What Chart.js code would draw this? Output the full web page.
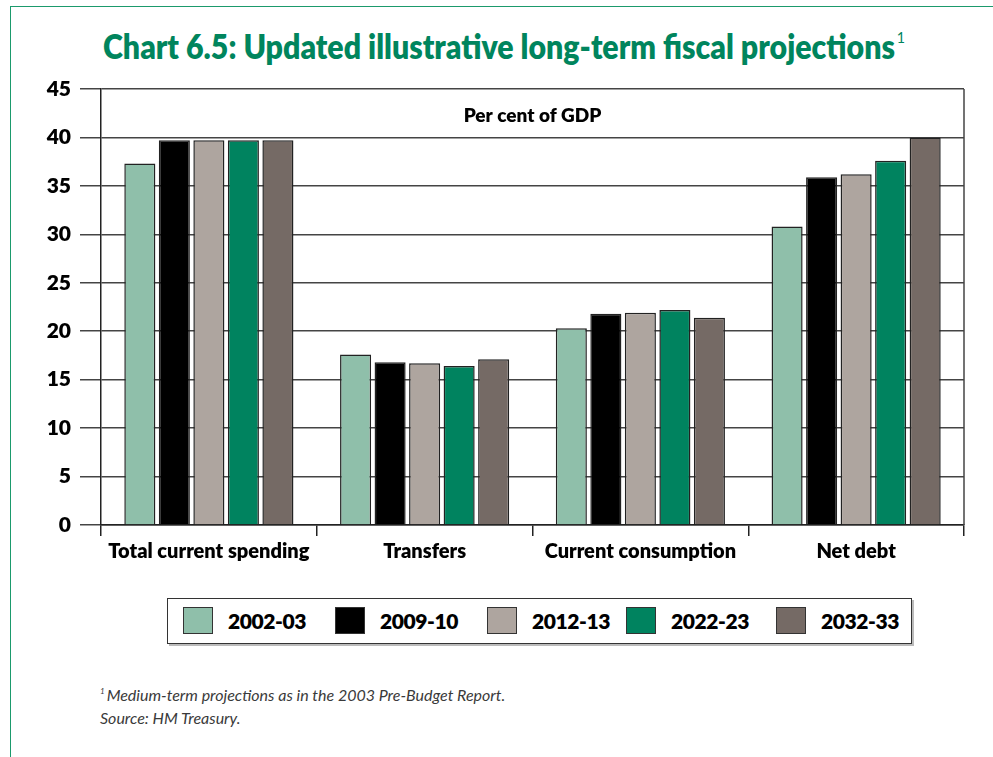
<!DOCTYPE html>
<html>
<head>
<meta charset="utf-8">
<script src="https://cdn.jsdelivr.net/npm/chart.js@4.4.1/dist/chart.umd.min.js"></script>
<style>
  html, body { margin: 0; padding: 0; background: #fff; }
  body { width: 993px; height: 757px; position: relative; overflow: hidden; font-family: Lato, "DejaVu Sans", sans-serif; }
  .frame-top { position: absolute; left: 10px; top: 6px; right: 0; height: 0; border-top: 1.5px solid #1b9a6c; }
  .frame-left { position: absolute; left: 10px; top: 6px; bottom: 0; width: 0; border-left: 1.5px solid #1b9a6c; }
  #title { position: absolute; left: 103px; top: 25px; font-weight: 800; font-size: 34px; color: #00855d; white-space: nowrap; transform-origin: 0 0; }
  #title sup { font-size: 16px; font-weight: 400; vertical-align: 16px; margin-left: 2px; }
  #wrap { position: absolute; left: 0; top: 0; width: 993px; height: 580px; }
  #legend { position: absolute; left: 167px; top: 598px; width: 745px; height: 46px; border: 1.5px solid #333;
            box-shadow: 2px 2px 0 #bbb; box-sizing: border-box; }
  .item { position: absolute; top: 0; height: 43px; display: flex; align-items: center; gap: 15px;
          font-weight: 800; font-size: 21px; letter-spacing: -0.4px; color: #000; white-space: nowrap; }
  .sw { width: 28px; height: 25px; border: 1.5px solid #333; }
  #note { position: absolute; left: 100px; top: 680px; font-style: italic; font-weight: 400; font-size: 16px; color: #3a3a3a; line-height: 23px; }
  #note sup { font-size: 8px; vertical-align: 7px; margin-right: 2px; }
</style>
</head>
<body>
<div class="frame-top"></div>
<div class="frame-left"></div>
<div id="title">Chart 6.5: Updated illustrative long-term fiscal projections<sup>1</sup></div>
<div id="wrap"><canvas id="c"></canvas></div>
<div id="legend"></div>
<div id="note"><sup>1</sup>Medium-term projections as in the 2003 Pre-Budget Report.<br>Source: HM Treasury.</div>
<script>
const categories = ['Total current spending', 'Transfers', 'Current consumption', 'Net debt'];
const years = ['2002-03', '2009-10', '2012-13', '2022-23', '2032-33'];
const colours = ['#8fbfaa', '#000000', '#aea59f', '#00835f', '#756a65'];

const y2002 = [37.3, 17.6, 20.3, 30.8];
const y2009 = [39.7, 16.8, 21.8, 35.9];
const y2012 = [39.7, 16.7, 21.9, 36.2];
const y2022 = [39.7, 16.4, 22.2, 37.6];
const y2032 = [39.7, 17.1, 21.4, 40.0];
const yTicks = [0, 5, 10, 15, 20, 25, 30, 35, 40, 45];
const unitLabel = 'Per cent of GDP';

const series = [y2002, y2009, y2012, y2022, y2032];

// squeeze the title to the printed width
const t = document.getElementById('title');
t.style.transform = 'scaleX(' + (802 / t.getBoundingClientRect().width) + ')';

// legend built from the same year / colour lists; left offsets of each key inside the box
const legendX = [15, 167, 319, 458, 608];
document.getElementById('legend').innerHTML = years.map((y, i) =>
  `<div class="item" style="left:${legendX[i]}px"><div class="sw" style="background:${colours[i]}"></div><span>${y}</span></div>`).join('');

const overlay = {
  id: 'overlay',
  afterDraw(chart) {
    const { ctx, chartArea: a } = chart;
    ctx.save();
    // right-hand frame of the plot
    ctx.strokeStyle = '#444';
    ctx.lineWidth = 1.5;
    ctx.beginPath();
    ctx.moveTo(a.right, a.top);
    ctx.lineTo(a.right, a.bottom);
    ctx.stroke();
    ctx.fillStyle = '#000';
    ctx.font = '800 19px Lato, sans-serif';
    ctx.textAlign = 'center';
    ctx.textBaseline = 'middle';
    ctx.fillText(unitLabel, (a.left + a.right) / 2, a.top + 27);
    ctx.restore();
  }
};

new Chart(document.getElementById('c'), {
  type: 'bar',
  data: {
    labels: categories,
    datasets: series.map((d, i) => ({
      label: years[i], data: d, backgroundColor: colours[i],
      borderColor: '#222', borderWidth: 1.5,
      categoryPercentage: 0.8, barPercentage: 0.9,
    })),
  },
  options: {
    responsive: true, maintainAspectRatio: false, animation: false,
    layout: { padding: { left: 0, top: 89, right: 29, bottom: 10 } },
    plugins: { legend: { display: false }, title: { display: false }, tooltip: { enabled: false } },
    scales: {
      x: {
        afterFit: (s) => { s.height = 45; },
        grid: { offset: true, drawOnChartArea: false, drawTicks: true, tickLength: 11, color: '#222', lineWidth: 1.5 },
        border: { display: true, color: '#222', width: 1.5 },
        ticks: { color: '#000', padding: 4, font: { family: 'Lato', weight: '800', size: 20 } },
      },
      y: {
        min: 0, max: 45,
        afterFit: (s) => { s.width = 101; },
        afterBuildTicks: (s) => { s.ticks = yTicks.map((v) => ({ value: v })); },
        grid: { color: '#444', lineWidth: 1.5, tickLength: 21 },
        border: { display: true, color: '#222', width: 1.5 },
        ticks: { color: '#000', padding: 9, font: { family: 'Lato', weight: '800', size: 21 } },
      },
    },
  },
  plugins: [overlay],
});
</script>
</body>
</html>
